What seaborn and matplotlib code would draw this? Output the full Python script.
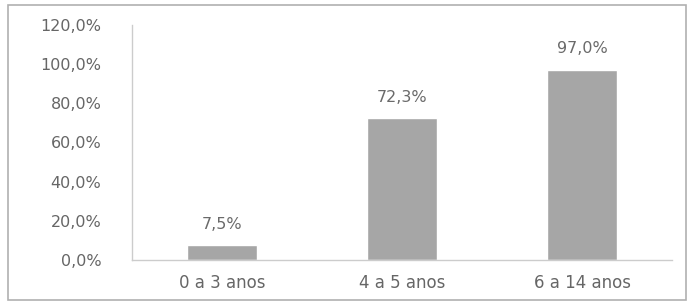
import matplotlib
matplotlib.use("Agg")
import matplotlib.pyplot as plt
import seaborn as sns
import pandas as pd
from matplotlib.patches import Rectangle
from matplotlib.ticker import FuncFormatter

categories = ["0 a 3 anos", "4 a 5 anos", "6 a 14 anos"]
values = [7.5, 72.3, 97.0]
value_labels = ["7,5%", "72,3%", "97,0%"]
y_ticks = [0, 20, 40, 60, 80, 100, 120]

sns.set_theme(style="white")
plt.rcParams['font.family'] = ['DejaVu Sans']

df = pd.DataFrame({"faixa": categories, "taxa": values})

W, H = 689, 304
fig = plt.figure(figsize=(W / 100, H / 100), dpi=100)
ax = fig.add_axes([132 / W, 1 - 260 / H, (672 - 132) / W, (260 - 25) / H])

sns.barplot(data=df, x="faixa", y="taxa", color="#a6a6a6", width=0.39,
            saturation=1, ax=ax)

for p, lab in zip(ax.patches, value_labels):
    ax.text(p.get_x() + p.get_width() / 2, p.get_height() + 7, lab,
            ha="center", va="bottom", fontsize=11.5, color="#6a6a6a")

ax.set_ylim(0, 120)
ax.set_xlim(-0.5, 2.5)
ax.set_yticks(y_ticks)
ax.yaxis.set_major_formatter(FuncFormatter(lambda v, _: f"{v:.1f}%".replace(".", ",")))
ax.set_xlabel("")
ax.set_ylabel("")
ax.tick_params(axis="y", labelsize=11.5, labelcolor="#666666", length=0, pad=22)
ax.tick_params(axis="x", labelsize=12, labelcolor="#666666", length=0, pad=10)

for s in ["top", "right"]:
    ax.spines[s].set_visible(False)
ax.spines["left"].set_color("#cccccc")
ax.spines["bottom"].set_color("#cccccc")
ax.spines["left"].set_linewidth(1)
ax.spines["bottom"].set_linewidth(1)

# outer chart frame
fig.patches.append(Rectangle((8 / W, 1 - 300 / H), (686 - 8) / W, (300 - 5) / H,
                             transform=fig.transFigure, fill=False,
                             edgecolor="#b0b0b0", linewidth=1.2))

fig.savefig("out.png", dpi=100)
